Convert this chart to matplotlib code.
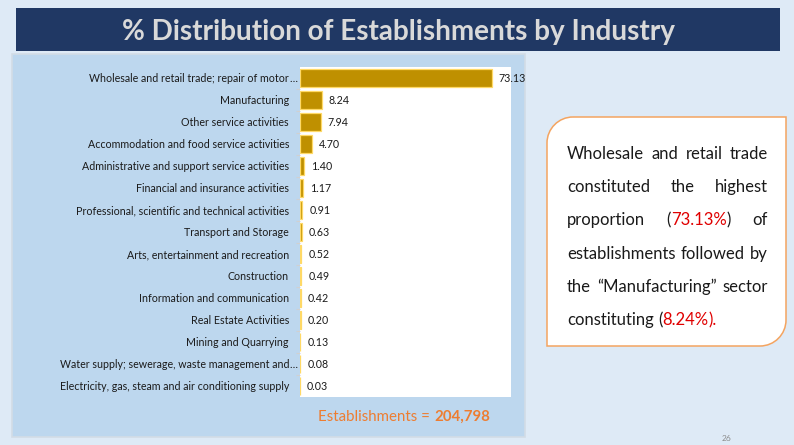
import matplotlib
matplotlib.use("Agg")
import matplotlib.pyplot as plt
from matplotlib.patches import Rectangle, PathPatch
from matplotlib.path import Path

# ---------------- data ----------------
categories = [
    "Wholesale and retail trade; repair of motor",
    "Manufacturing",
    "Other service activities",
    "Accommodation and food service activities",
    "Administrative and support service activities",
    "Financial and insurance activities",
    "Professional, scientific and technical activities",
    "Transport and Storage",
    "Arts, entertainment and recreation",
    "Construction",
    "Information and communication",
    "Real Estate Activities",
    "Mining and Quarrying",
    "Water supply; sewerage, waste management and",
    "Electricity, gas, steam and air conditioning supply",
]
truncated = [True, False, False, False, False, False, False, False,
             False, False, False, False, False, True, False]
values = [73.13, 8.24, 7.94, 4.70, 1.40, 1.17, 0.91, 0.63,
          0.52, 0.49, 0.42, 0.20, 0.13, 0.08, 0.03]
value_labels = ["73.13", "8.24", "7.94", "4.70", "1.40", "1.17", "0.91", "0.63",
                "0.52", "0.49", "0.42", "0.20", "0.13", "0.08", "0.03"]

title = "% Distribution of Establishments by Industry"
footer_text = "Establishments = "
footer_value = "204,798"
page_number = "26"

# text box lines: each line is a list of words, each word a list of (segment, color)
BLK, RED = "#1a1a1a", "#E00000"
box_lines = [
    [[("Wholesale", BLK)], [("and", BLK)], [("retail", BLK)], [("trade", BLK)]],
    [[("constituted", BLK)], [("the", BLK)], [("highest", BLK)]],
    [[("proportion", BLK)], [("(", BLK), ("73.13%", RED), (")", BLK)], [("of", BLK)]],
    [[("establishments", BLK)], [("followed", BLK)], [("by", BLK)]],
    [[("the", BLK)], [("\u201cManufacturing\u201d", BLK)], [("sector", BLK)]],
    [[("constituting", BLK)], [("(", BLK), ("8.24%", RED), (").", RED)]],
]

# ---------------- figure ----------------
W, H = 794, 445
fig = plt.figure(figsize=(W / 100, H / 100), dpi=100)
fig.patch.set_facecolor("#DEEAF6")
FONT = "Lato"
FS_LAB = 7.7


def fx(px):
    return px / W


def fy(py):
    return 1 - py / H


# title banner
fig.patches.append(Rectangle((fx(16), fy(51)), fx(780) - fx(16), fy(8) - fy(51),
                             transform=fig.transFigure, facecolor="#203864",
                             edgecolor="none", zorder=-2))
# chart panel
fig.patches.append(Rectangle((fx(12), fy(437)), fx(525) - fx(12), fy(54) - fy(437),
                             transform=fig.transFigure, facecolor="#BDD7EE",
                             edgecolor="#D2DCE6", linewidth=1.2, zorder=-2))

renderer = fig.canvas.get_renderer()

# title fitted to width
t = fig.text(fx(398), fy(40), title, ha="center", va="baseline", color="#D9D9D9",
             fontsize=20, fontweight="bold", family=FONT, zorder=3)
bw = t.get_window_extent(renderer).width
t.set_fontsize(20 * 553 / bw)

# ---------------- axes ----------------
ax = fig.add_axes([fx(300), fy(397), fx(511) - fx(300), fy(67) - fy(397)])
ax.set_zorder(2)
ax.set_facecolor("white")
ypos = list(range(len(categories)))
ax.barh(ypos, values, height=0.82, color="#BF9000", edgecolor="#FFD966",
        linewidth=0.9, zorder=2)
ax.set_xlim(0, 80.4)
ax.set_ylim(len(categories) - 0.5, -0.5)
ax.set_xticks([])
ax.set_yticks(ypos)
ax.set_yticklabels(categories, fontsize=FS_LAB, family=FONT, color="#1a1a1a")
ax.tick_params(axis="y", which="major", length=0, pad=11 * 72 / 100)
ax.set_yticks([i + 0.5 for i in ypos[:-1]], minor=True)
ax.tick_params(axis="y", which="minor", length=3, color="#D0D0D0", width=0.8)
for s in ax.spines.values():
    s.set_visible(False)

for i, (v, lab, tr) in enumerate(zip(values, value_labels, truncated)):
    ax.annotate(lab, xy=(v, i), xytext=(7, 0), textcoords="offset pixels",
                ha="left", va="center", fontsize=FS_LAB, family=FONT,
                color="#1a1a1a", annotation_clip=False)
    if tr:
        ax.annotate("\u2026", xy=(0, i), xytext=(-11, 0), textcoords="offset pixels",
                    ha="left", va="center", fontsize=FS_LAB, family=FONT,
                    color="#1a1a1a", annotation_clip=False)

# footer
fs_footer = 10.8
t1 = fig.text(0, fy(421), footer_text, ha="left", va="baseline", color="#ED7D31",
              fontsize=fs_footer, family=FONT)
t2 = fig.text(0, fy(421), footer_value, ha="left", va="baseline", color="#ED7D31",
              fontsize=fs_footer, family=FONT, fontweight="bold")
w1 = t1.get_window_extent(renderer).width
w2 = t2.get_window_extent(renderer).width
start = 404 - (w1 + w2) / 2
t1.set_x(fx(start))
t2.set_x(fx(start + w1))

# page number
fig.text(fx(727), fy(441), page_number, ha="center", va="baseline",
         fontsize=6, color="#8C8C8C", family=FONT)

# ---------------- text box with rounded diagonal corners ----------------
L, R, T, B, r = 547, 786, 117, 346, 26
k = 0.5523 * r
pts = [
    (L + r, T), (R, T), (R, B - r),
    (R, B - r + k), (R - r + k, B), (R - r, B),
    (L, B), (L, T + r),
    (L, T + r - k), (L + r - k, T), (L + r, T),
]
codes = [Path.MOVETO, Path.LINETO, Path.LINETO,
         Path.CURVE4, Path.CURVE4, Path.CURVE4,
         Path.LINETO, Path.LINETO,
         Path.CURVE4, Path.CURVE4, Path.CURVE4]
path = Path([(fx(x), fy(y)) for x, y in pts], codes)
fig.patches.append(PathPatch(path, transform=fig.transFigure, facecolor="white",
                             edgecolor="#F4A460", linewidth=1.1, zorder=1))

fs_box = 12
left_x, right_x = 567, 768
space_t = fig.text(0, 0, "a a", fontsize=fs_box, family=FONT)
aa = fig.text(0, 0, "aa", fontsize=fs_box, family=FONT)
space_w = space_t.get_window_extent(renderer).width - aa.get_window_extent(renderer).width
space_t.remove()
aa.remove()

for li, words in enumerate(box_lines):
    base = 159 + 33.2 * li
    arts = []
    widths = []
    for word in words:
        wlist = []
        ww = 0
        for seg, col in word:
            tt = fig.text(0, fy(base), seg, ha="left", va="baseline", color=col,
                          fontsize=fs_box, family=FONT, zorder=3)
            sw = tt.get_window_extent(renderer).width
            wlist.append((tt, sw))
            ww += sw
        arts.append(wlist)
        widths.append(ww)
    last = li == len(box_lines) - 1
    if last or len(words) == 1:
        gap = space_w
    else:
        gap = (right_x - left_x - sum(widths)) / (len(words) - 1)
    x = left_x
    for wlist, ww in zip(arts, widths):
        xx = x
        for tt, sw in wlist:
            tt.set_x(fx(xx))
            xx += sw
        x += ww + gap

fig.savefig("out.png", dpi=100, facecolor=fig.get_facecolor())
